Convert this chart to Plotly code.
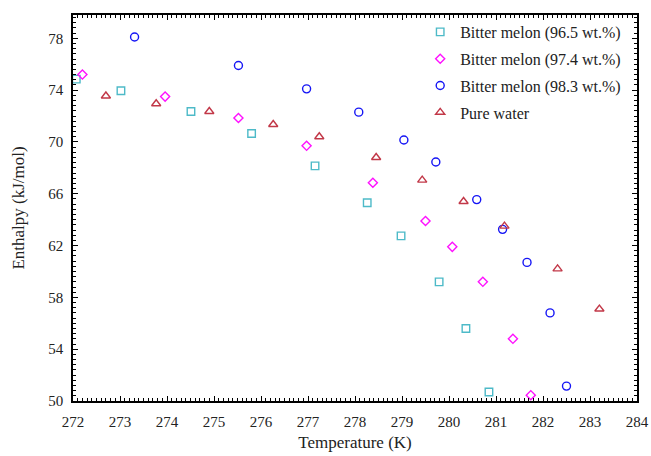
import plotly.graph_objects as go

# Bitter melon (96.5 wt.%)
t_965 = [272.07, 273.02, 274.51, 275.80, 277.15, 278.26, 278.98, 279.79, 280.36, 280.85]
h_965 = [74.85, 73.95, 72.35, 70.65, 68.15, 65.3, 62.75, 59.2, 55.6, 50.7]

# Bitter melon (97.4 wt.%)
t_974 = [272.20, 273.96, 275.52, 276.97, 278.38, 279.50, 280.07, 280.72, 281.36, 281.74]
h_974 = [75.2, 73.5, 71.85, 69.7, 66.85, 63.9, 61.9, 59.2, 54.8, 50.45]

# Bitter melon (98.3 wt.%)
t_983 = [273.31, 275.52, 276.97, 278.08, 279.04, 279.72, 280.59, 281.14, 281.66, 282.15, 282.50]
h_983 = [78.1, 75.9, 74.1, 72.3, 70.15, 68.45, 65.55, 63.25, 60.7, 56.8, 51.15]

# Pure water
t_w = [272.70, 273.77, 274.90, 276.26, 277.24, 278.45, 279.43, 280.31, 281.18, 282.31, 283.20]
h_w = [73.55, 72.95, 72.35, 71.35, 70.4, 68.8, 67.05, 65.4, 63.5, 60.2, 57.1]

series = [
    ("Bitter melon (96.5 wt.%)", t_965, h_965, "square-open", "#4DBAC8", 7.5),
    ("Bitter melon (97.4 wt.%)", t_974, h_974, "diamond-open", "#FF10FF", 7),
    ("Bitter melon (98.3 wt.%)", t_983, h_983, "circle-open", "#1515F5", 8),
    ("Pure water", t_w, h_w, "triangle-up-open", "#C23848", 8),
]

fig = go.Figure()
for i, (name, x, y, sym, col, sz) in enumerate(series):
    fig.add_trace(go.Scatter(
        x=x, y=y, mode="markers", name=name, legendgroup=f"g{i}",
        marker=dict(symbol=sym, size=sz, color=col, line=dict(width=1.4, color=col)),
    ))

font = "Liberation Serif, Times New Roman, serif"
axis_common = dict(
    showline=True, linecolor="black", linewidth=1.6, mirror="ticks",
    ticks="inside", ticklen=5, tickwidth=1.2, tickcolor="black",
    showgrid=False, zeroline=False, automargin=False,
    tickfont=dict(family=font, size=15, color="#222"),
)
fig.update_xaxes(
    range=[272, 284], dtick=1, tick0=272, ticklabelstandoff=6,
    minor=dict(dtick=0.1, ticks="inside", ticklen=3, tickcolor="black", tickwidth=1),
    title=dict(text="Temperature (K)", font=dict(family=font, size=17, color="#222"), standoff=7),
    **axis_common,
)
fig.update_yaxes(
    range=[50, 79.8], dtick=4, tick0=50, ticklabelstandoff=5,
    minor=dict(dtick=0.4, ticks="inside", ticklen=3, tickcolor="black", tickwidth=1),
    title=dict(text="Enthalpy (kJ/mol)", font=dict(family=font, size=17, color="#222"), standoff=19),
    **axis_common,
)
fig.update_layout(
    width=651, height=456,
    margin=dict(l=72.5, r=14, t=15, b=55),
    plot_bgcolor="white", paper_bgcolor="white",
    font=dict(family=font, color="#222"),
    legend=dict(
        x=0.6156, y=1.0, xanchor="left", yanchor="top",
        font=dict(family=font, size=16, color="#222"),
        bgcolor="rgba(0,0,0,0)", traceorder="grouped", tracegroupgap=3,
    ),
)
fig.write_html("out.html")
